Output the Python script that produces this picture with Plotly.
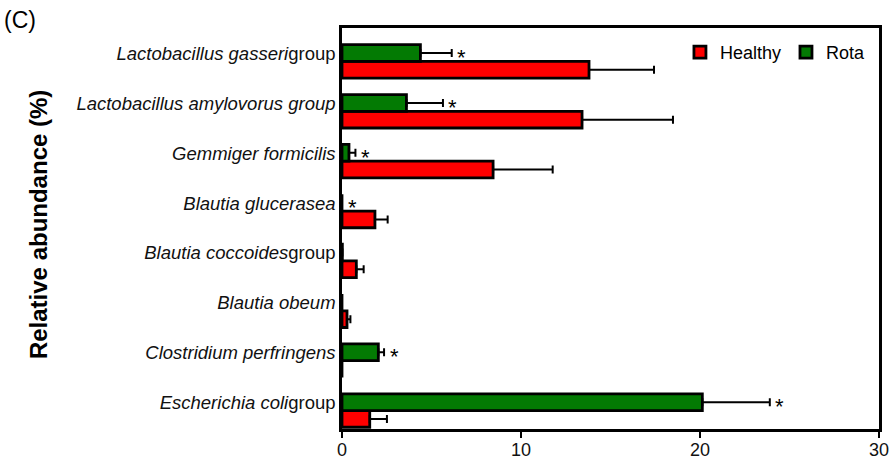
import plotly.graph_objects as go

# ---- data (top-to-bottom order as shown) ----
categories = ["Lactobacillus gasseri group", "Lactobacillus amylovorus group",
              "Gemmiger formicilis", "Blautia glucerasea", "Blautia coccoides group",
              "Blautia obeum", "Clostridium perfringens", "Escherichia coli group"]
tick_labels = ["<i>Lactobacillus gasseri</i>group", "<i>Lactobacillus amylovorus group</i>",
               "<i>Gemmiger formicilis</i>", "<i>Blautia glucerasea</i>",
               "<i>Blautia coccoides</i>group", "<i>Blautia obeum</i>",
               "<i>Clostridium perfringens</i>", "<i>Escherichia coli</i>group"]
healthy = [13.8, 13.41, 8.44, 1.84, 0.80, 0.28, 0.0, 1.55]
healthy_err = [3.63, 5.08, 3.33, 0.71, 0.41, 0.19, 0.0, 0.96]
rota = [4.38, 3.6, 0.39, 0.0, 0.02, 0.0, 2.03, 20.13]
rota_err = [1.75, 2.04, 0.36, 0.0, 0.0, 0.0, 0.32, 3.77]
significant = [True, True, True, True, False, False, True, True]
x_ticks = [0, 10, 20, 30]

FONT = "Liberation Sans, Arial, sans-serif"
RED = "#ff0000"
GREEN = "#037a03"

fig = go.Figure()
fig.add_trace(go.Bar(
    name="Healthy", y=categories, x=healthy, orientation="h",
    marker=dict(color=RED, line=dict(color="black", width=2.8)),
    error_x=dict(type="data", array=healthy_err, arrayminus=[0] * len(healthy),
                 symmetric=False, color="black", thickness=2, width=4),
))
fig.add_trace(go.Bar(
    name="Rota", y=categories, x=rota, orientation="h",
    marker=dict(color=GREEN, line=dict(color="black", width=2.8)),
    error_x=dict(type="data", array=rota_err, arrayminus=[0] * len(rota),
                 symmetric=False, color="black", thickness=2, width=4),
))

# significance stars next to the Rota bars
for cat, v, e, s in zip(categories, rota, rota_err, significant):
    if s:
        fig.add_annotation(x=v + e, y=cat, text="*", showarrow=False,
                           xanchor="center", yanchor="middle", xshift=10, yshift=4,
                           font=dict(family=FONT, size=22, color="black"))

# panel letter and axis title
fig.add_annotation(xref="paper", yref="paper", x=-0.600, y=1.02, text="(C)",
                   showarrow=False, xanchor="center", yanchor="middle",
                   font=dict(family=FONT, size=23, color="black"))
fig.add_annotation(xref="paper", yref="paper", x=-0.565, y=0.51,
                   text="<b>Relative abundance (%)</b>", textangle=-90,
                   showarrow=False, xanchor="center", yanchor="middle",
                   font=dict(family=FONT, size=24, color="black"))

fig.update_layout(
    width=889, height=460,
    margin=dict(l=342, r=10, t=28, b=31, autoexpand=False),
    paper_bgcolor="white", plot_bgcolor="white",
    barmode="group", bargap=0.33, bargroupgap=0,
    font=dict(family=FONT, color="black"),
    legend=dict(orientation="h", x=0.985, xanchor="right", y=0.985, yanchor="top",
                bgcolor="rgba(0,0,0,0)", font=dict(family=FONT, size=18, color="black"),
                traceorder="normal", itemwidth=30),
    showlegend=True,
)
fig.update_xaxes(range=[0, 30], tickvals=x_ticks, ticks="outside", ticklen=6,
                 tickwidth=2, tickcolor="black", showgrid=False, zeroline=False,
                 showline=True, linecolor="black", linewidth=2.5, mirror=True,
                 ticklabelstandoff=-3, automargin=False, ticklabeloverflow="allow",
                 tickfont=dict(family=FONT, size=18, color="#111"))
fig.update_yaxes(type="category", categoryorder="array",
                 categoryarray=list(reversed(categories)),
                 tickvals=categories, ticktext=tick_labels,
                 range=[-0.37, 7.67], ticks="", showgrid=False, zeroline=False,
                 showline=True, linecolor="black", linewidth=2.5, mirror=True,
                 ticklabelshift=-8, ticklabelstandoff=0, automargin=False,
                 tickfont=dict(family=FONT, size=18.5, color="#111"))

fig.write_html("out.html")
